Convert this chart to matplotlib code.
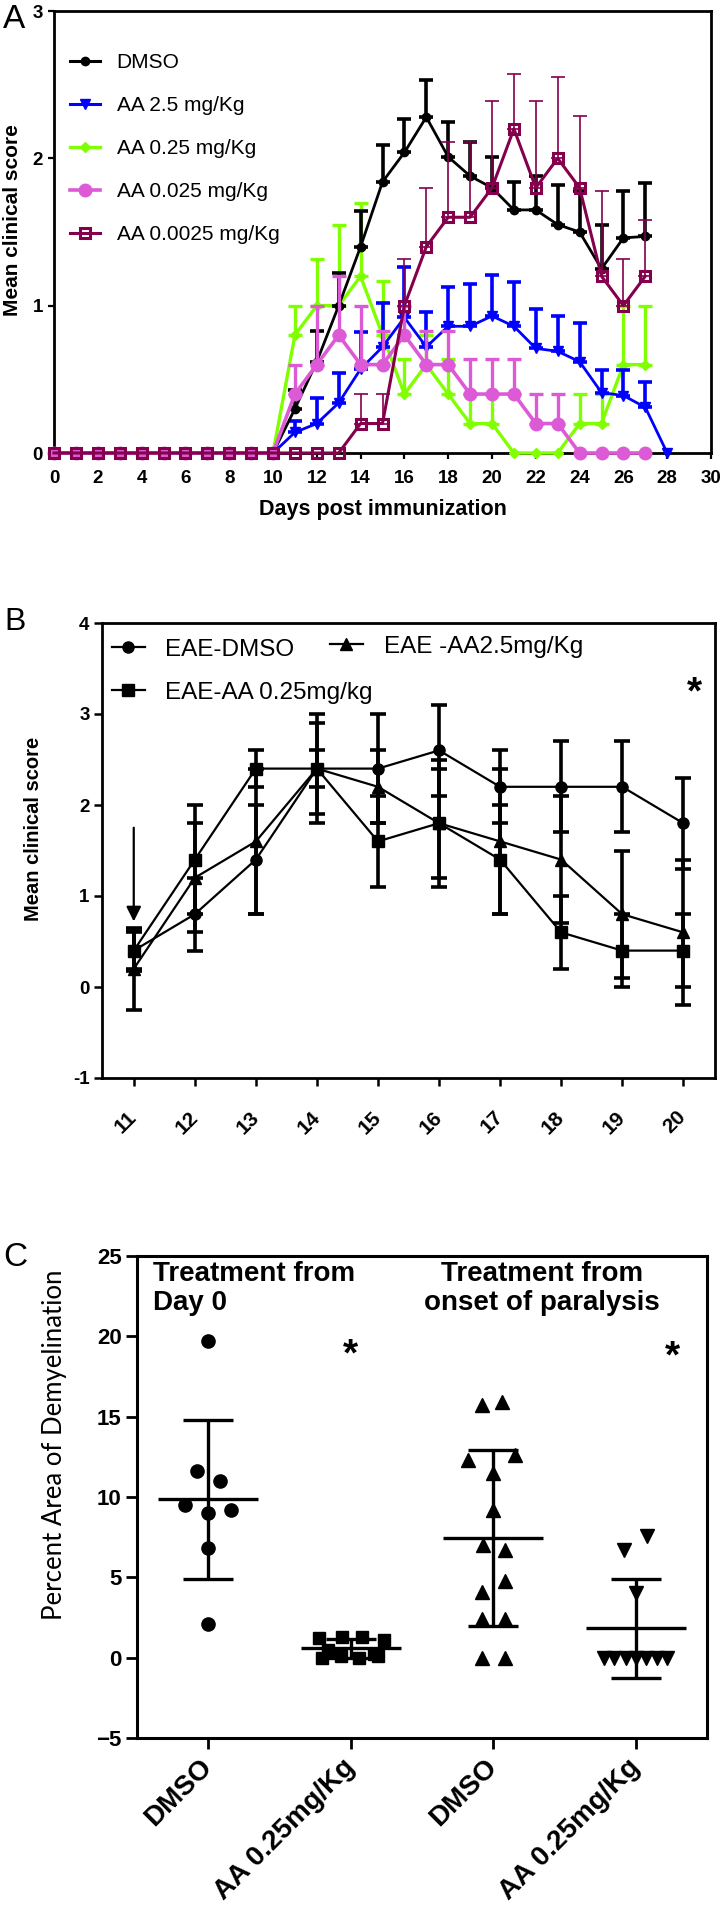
import numpy as np
import matplotlib
matplotlib.use('Agg')
import matplotlib.pyplot as plt
from matplotlib.lines import Line2D
from matplotlib import font_manager

plt.rcParams['font.family'] = ['Liberation Sans', 'DejaVu Sans']
_names = {f.name for f in font_manager.fontManager.ttflist}
LABELFONT = 'Lato' if 'Lato' in _names else 'Liberation Sans'

# ---------------- Panel A data ----------------
days_a = [0, 1, 2, 3, 4, 5, 6, 7, 8, 9, 10, 11, 12, 13, 14, 15, 16, 17, 18, 19, 20, 21, 22, 23, 24, 25, 26, 27]
days_a_blue = [0, 1, 2, 3, 4, 5, 6, 7, 8, 9, 10, 11, 12, 13, 14, 15, 16, 17, 18, 19, 20, 21, 22, 23, 24, 25, 26, 27, 28]
a_labels = ["DMSO", "AA 2.5 mg/Kg", "AA 0.25 mg/Kg", "AA 0.025 mg/Kg", "AA 0.0025 mg/Kg"]

a_dmso = [0, 0, 0, 0, 0, 0, 0, 0, 0, 0, 0, 0.30, 0.62, 1.00, 1.40, 1.84, 2.04, 2.28, 2.01, 1.88, 1.80, 1.65, 1.65, 1.55, 1.50, 1.25, 1.46, 1.47]
a_dmso_err = [0, 0, 0, 0, 0, 0, 0, 0, 0, 0, 0, 0.13, 0.21, 0.22, 0.24, 0.25, 0.23, 0.25, 0.24, 0.23, 0.21, 0.19, 0.23, 0.27, 0.28, 0.30, 0.32, 0.36]

a_aa25 = [0, 0, 0, 0, 0, 0, 0, 0, 0, 0, 0, 0.14, 0.20, 0.34, 0.57, 0.72, 0.92, 0.72, 0.86, 0.86, 0.93, 0.86, 0.71, 0.69, 0.62, 0.41, 0.39, 0.31, 0.00]
a_aa25_err = [0, 0, 0, 0, 0, 0, 0, 0, 0, 0, 0, 0.08, 0.17, 0.20, 0.25, 0.30, 0.34, 0.24, 0.27, 0.29, 0.28, 0.30, 0.27, 0.24, 0.26, 0.15, 0.17, 0.17, 0.00]

a_aa025 = [0, 0, 0, 0, 0, 0, 0, 0, 0, 0, 0, 0.8, 1.0, 1.0, 1.2, 0.8, 0.4, 0.6, 0.4, 0.2, 0.2, 0.0, 0.0, 0.0, 0.2, 0.2, 0.6, 0.6]
a_aa025_err = [0, 0, 0, 0, 0, 0, 0, 0, 0, 0, 0, 0.20, 0.32, 0.55, 0.50, 0.37, 0.24, 0.20, 0.24, 0.20, 0.20, 0, 0, 0, 0.20, 0.20, 0.40, 0.40]

a_aa0025 = [0, 0, 0, 0, 0, 0, 0, 0, 0, 0, 0, 0.4, 0.6, 0.8, 0.6, 0.6, 0.8, 0.6, 0.6, 0.4, 0.4, 0.4, 0.2, 0.2, 0, 0, 0, 0]
a_aa0025_err = [0, 0, 0, 0, 0, 0, 0, 0, 0, 0, 0, 0.20, 0.40, 0.40, 0.40, 0.23, 0.20, 0.23, 0.23, 0.24, 0.24, 0.24, 0.20, 0.20, 0, 0, 0, 0]

a_aa00025 = [0, 0, 0, 0, 0, 0, 0, 0, 0, 0, 0, 0, 0, 0, 0.2, 0.2, 1.0, 1.4, 1.6, 1.6, 1.8, 2.2, 1.8, 2.0, 1.8, 1.2, 1.0, 1.2]
a_aa00025_err = [0, 0, 0, 0, 0, 0, 0, 0, 0, 0, 0, 0, 0, 0, 0.20, 0.20, 0.32, 0.40, 0.51, 0.51, 0.59, 0.37, 0.59, 0.55, 0.49, 0.58, 0.32, 0.38]

# ---------------- Panel B data ----------------
days_b = [11, 12, 13, 14, 15, 16, 17, 18, 19, 20]
b_labels = ["EAE-DMSO", "EAE -AA2.5mg/Kg", "EAE-AA 0.25mg/kg"]
b_dmso = [0.4, 0.8, 1.4, 2.4, 2.4, 2.6, 2.2, 2.2, 2.2, 1.8]
b_dmso_err = [0.22, 0.4, 0.6, 0.6, 0.6, 0.5, 0.4, 0.5, 0.5, 0.5]
b_aa25 = [0.2, 1.2, 1.6, 2.4, 2.2, 1.8, 1.6, 1.4, 0.8, 0.6]
b_aa25_err = [0.45, 0.6, 0.8, 0.5, 0.4, 0.6, 0.8, 0.7, 0.7, 0.8]
b_aa025 = [0.4, 1.4, 2.4, 2.4, 1.6, 1.8, 1.4, 0.6, 0.4, 0.4]
b_aa025_err = [0.2, 0.6, 0.2, 0.2, 0.5, 0.7, 0.6, 0.4, 0.4, 0.4]
b_treatment_day = 11

# ---------------- Panel C data ----------------
c_categories = ["DMSO", "AA 0.25mg/Kg", "DMSO", "AA 0.25mg/Kg"]
c_dmso_day0 = [19.7, 11.6, 11.0, 9.5, 9.0, 9.2, 6.8, 2.1]
c_aa_day0 = [1.2, 1.3, 1.3, 1.1, 0.5, 0.2, 0.0, 0.1, 0.0, 0.1]
c_dmso_onset = [15.7, 15.9, 12.3, 12.6, 11.5, 9.2, 7.0, 6.7, 4.8, 4.1, 2.4, 2.4, 0.0, 0.0]
c_aa_onset = [7.6, 6.7, 4.0, 0.0, 0.0, 0.0, 0.0, 0.0, 0.0, 0.0]

# horizontal scatter offsets (layout only)
c_offsets = [
    [0.0, -0.08, 0.08, -0.16, 0.0, 0.16, 0.0, 0.0],
    [-0.22, -0.06, 0.08, 0.23, -0.16, 0.16, -0.20, -0.07, 0.06, 0.19],
    [-0.08, 0.06, -0.18, 0.15, 0.0, 0.0, -0.07, 0.08, 0.08, -0.08, -0.08, 0.08, -0.08, 0.08],
    [0.08, -0.08, 0.0, -0.22, -0.15, -0.07, 0.0, 0.07, 0.15, 0.22],
]

W, H = 726, 1912
fig = plt.figure(figsize=(W / 100, H / 100), dpi=100)


def ax_px(l, t, r, b):
    return fig.add_axes([l / W, 1 - b / H, (r - l) / W, (b - t) / H])


# ======================= Panel A =======================
axA = ax_px(54, 11, 711, 453)
axA.set_xlim(0, 30)
axA.set_ylim(0, 3)
for s in axA.spines.values():
    s.set_linewidth(2)
axA.set_xticks(range(0, 31, 2))
axA.set_yticks([0, 1, 2, 3])
axA.tick_params(direction='out', length=4, width=1.6, pad=4, labelsize=13.5)
axA.tick_params(axis='x', pad=8)
for lab in axA.get_xticklabels() + axA.get_yticklabels():
    lab.set_fontweight('bold')

COL_DMSO = 'black'
COL_BLUE = '#0000FF'
COL_GREEN = '#80FF00'
COL_PINK = '#DC5AD6'
COL_MAROON = '#84004C'

series_a = [
    # x, y, err, color, marker, ms, lw, elw, mfc, mew, zorder
    (days_a, a_aa025, a_aa025_err, COL_GREEN, 'D', 5.5, 2.4, 2.4, COL_GREEN, 1, 3.0),
    (days_a_blue, a_aa25, a_aa25_err, COL_BLUE, 'v', 6.5, 2.0, 2.6, COL_BLUE, 1, 3.1),
    (days_a, a_dmso, a_dmso_err, COL_DMSO, 'o', 6.0, 2.0, 2.6, COL_DMSO, 1, 3.2),
    (days_a, a_aa0025, a_aa0025_err, COL_PINK, 'o', 9.0, 2.6, 2.4, COL_PINK, 1, 3.3),
    (days_a, a_aa00025, a_aa00025_err, COL_MAROON, 's', 7.5, 2.2, 1.2, 'none', 2.2, 3.4),
]
for x, y, e, c, mk, ms, lw, elw, mfc, mew, z in series_a:
    x = np.asarray(x, float)
    y = np.asarray(y, float)
    e = np.asarray(e, float)
    m = e > 0
    axA.errorbar(x[m], y[m], yerr=[np.zeros(m.sum()), e[m]], fmt='none', ecolor=c,
                 elinewidth=elw, capsize=5, capthick=elw, zorder=z)
    axA.plot(x, y, color=c, lw=lw, marker=mk, ms=ms, mfc=mfc, mec=c, mew=mew,
             zorder=z + 0.05, clip_on=False)

handles_a = [
    Line2D([], [], color=COL_DMSO, lw=2.2, marker='o', ms=6),
    Line2D([], [], color=COL_BLUE, lw=2.2, marker='v', ms=6.5),
    Line2D([], [], color=COL_GREEN, lw=2.4, marker='D', ms=5.5),
    Line2D([], [], color=COL_PINK, lw=2.6, marker='o', ms=9),
    Line2D([], [], color=COL_MAROON, lw=2.2, marker='s', ms=7.5, mfc='none', mew=2.2),
]
axA.legend(handles_a, a_labels, loc='upper left', bbox_to_anchor=(0.024, 0.905),
           frameon=False, fontsize=15, handlelength=1.45, handletextpad=0.8,
           labelspacing=1.15, borderaxespad=0, borderpad=0)
axA.set_xlabel('Days post immunization', fontsize=15.5, fontweight='bold', labelpad=9)
axA.set_ylabel('Mean clinical score', fontsize=15, fontweight='bold')
axA.yaxis.set_label_coords(-0.048, 0.527)

# ======================= Panel B =======================
axB = ax_px(102, 623, 715, 1078)
axB.set_xlim(10.48, 20.52)
axB.set_ylim(-1, 4)
for s in axB.spines.values():
    s.set_linewidth(2)
axB.set_xticks(days_b)
axB.set_yticks([-1, 0, 1, 2, 3, 4])
axB.tick_params(axis='both', direction='out', length=6, width=1.8, pad=3)
axB.tick_params(axis='x', pad=20)
axB.set_yticklabels([str(v) for v in [-1, 0, 1, 2, 3, 4]], fontsize=13.5,
                    fontweight='bold')
axB.set_xticklabels([str(d) for d in days_b], rotation=45, ha='right', va='center',
                    rotation_mode='anchor', fontsize=15, fontweight='bold')

series_b = [
    (b_dmso, b_dmso_err, 'o'),
    (b_aa25, b_aa25_err, '^'),
    (b_aa025, b_aa025_err, 's'),
]
for y, e, mk in series_b:
    axB.errorbar(days_b, y, yerr=e, fmt='-' + mk, color='k', lw=1.6, ms=8,
                 elinewidth=2.6, capsize=5.5, capthick=2.6, zorder=3)

tip = max(b_dmso[0] + b_dmso_err[0], b_aa25[0] + b_aa25_err[0],
          b_aa025[0] + b_aa025_err[0]) + 0.07
axB.annotate('', xy=(b_treatment_day, tip), xytext=(b_treatment_day, tip + 1.03),
             arrowprops=dict(arrowstyle='-|>', color='k', lw=1.6, mutation_scale=22,
                             shrinkA=0, shrinkB=0))

hb = {
    'o': Line2D([], [], color='k', lw=1.6, marker='o', ms=8),
    '^': Line2D([], [], color='k', lw=1.6, marker='^', ms=8),
    's': Line2D([], [], color='k', lw=1.6, marker='s', ms=8),
}
legB1 = axB.legend([hb['o'], hb['s']], [b_labels[0], b_labels[2]], loc='upper left',
                   bbox_to_anchor=(0.016, 0.965), frameon=False, fontsize=17.5,
                   handlelength=1.35, handletextpad=0.85, labelspacing=0.85,
                   borderaxespad=0, borderpad=0)
axB.add_artist(legB1)
axB.legend([hb['^']], [b_labels[1]], loc='upper left', bbox_to_anchor=(0.372, 0.972),
           frameon=False, fontsize=17.5, handlelength=1.35, handletextpad=0.85,
           borderaxespad=0, borderpad=0)
axB.text(0.967, 0.845, '*', transform=axB.transAxes, ha='center', va='center',
         fontsize=28, fontweight='bold')
axB.set_ylabel('Mean clinical score', fontsize=14.5, fontweight='bold')
axB.yaxis.set_label_coords(-0.096, 0.547)

# ======================= Panel C =======================
axC = ax_px(137, 1256, 707, 1738)
axC.set_xlim(-0.5, 3.5)
axC.set_ylim(-5, 25)
for s in axC.spines.values():
    s.set_linewidth(2.2)
axC.set_yticks(range(-5, 26, 5))
axC.set_xticks(range(len(c_categories)))
axC.tick_params(axis='both', direction='out', length=8, width=2, pad=3, labelsize=16)
for lab in axC.get_yticklabels():
    lab.set_fontweight('bold')
axC.set_xticklabels(c_categories, rotation=45, ha='right', va='center',
                    rotation_mode='anchor', fontsize=20, fontweight='bold')
axC.tick_params(axis='x', pad=10)

groups = [c_dmso_day0, c_aa_day0, c_dmso_onset, c_aa_onset]
markers_c = ['o', 's', '^', 'v']
sizes_c = [9.5, 9.0, 9.5, 9.5]
for i, (vals, offs, mk, ms) in enumerate(zip(groups, c_offsets, markers_c, sizes_c)):
    vals = np.asarray(vals, float)
    xs = i + np.asarray(offs)
    axC.plot(xs, vals, ls='none', marker=mk, ms=ms, color='k', zorder=3)
    mean = vals.mean()
    sd = vals.std(ddof=1)
    axC.errorbar(i, mean, yerr=sd, fmt='none', ecolor='k', elinewidth=2.4,
                 capsize=18, capthick=2.4, zorder=4)
    axC.hlines(mean, i - 0.35, i + 0.35, colors='k', lw=2.4, zorder=4)

axC.text(1.0, 18.8, '*', ha='center', va='center', fontsize=28, fontweight='bold')
axC.text(3.26, 18.7, '*', ha='center', va='center', fontsize=28, fontweight='bold')
axC.text(-0.39, 24.7, 'Treatment from\nDay 0', ha='left', va='top', fontsize=20,
         fontweight='bold', linespacing=1.15)
axC.text(2.34, 24.7, 'Treatment from\nonset of paralysis', ha='center', va='top',
         multialignment='center', fontsize=20, fontweight='bold', linespacing=1.15)
axC.set_ylabel('Percent Area of Demyelination', fontsize=18.5, fontfamily=LABELFONT)
axC.yaxis.set_label_coords(-0.123, 0.608)

# panel letters
fig.text(3 / W, 1 - 20 / H, 'A', fontsize=24, ha='left', va='center')
fig.text(4 / W, 1 - 622 / H, 'B', fontsize=23, ha='left', va='center')
fig.text(3 / W, 1 - 1257 / H, 'C', fontsize=24, ha='left', va='center')

fig.savefig('out.png', dpi=100)
